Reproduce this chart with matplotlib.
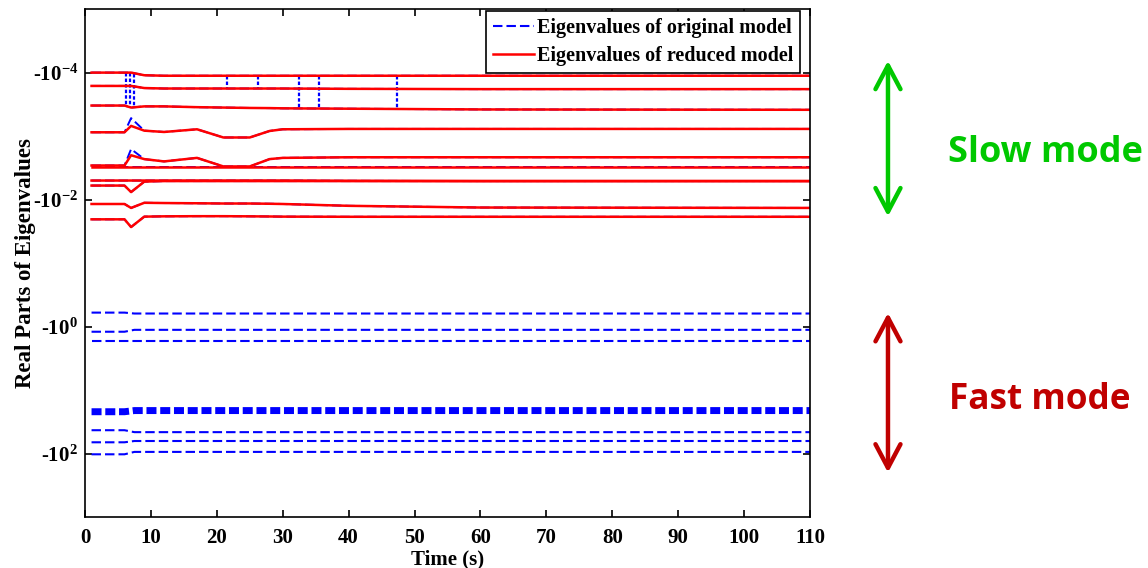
import matplotlib
matplotlib.use("Agg")
import matplotlib.pyplot as plt
import numpy as np
from matplotlib.patches import FancyArrowPatch

plt.rcParams['font.family'] = ['Liberation Serif', 'DejaVu Serif']
plt.rcParams['font.weight'] = 'bold'
plt.rcParams['mathtext.fontset'] = 'custom'
plt.rcParams['mathtext.rm'] = 'Liberation Serif:bold'
plt.rcParams['mathtext.it'] = 'Liberation Serif:italic:bold'
plt.rcParams['mathtext.bf'] = 'Liberation Serif:bold'
plt.rcParams['lines.scale_dashes'] = False

# time knots for the slow (electromechanical) eigenvalues
t_slow = [1, 6, 7, 9, 12, 17, 21, 25, 28, 30, 40, 60, 110]

# real parts of reduced model eigenvalues (slow mode)
red1 = [-1.00e-4, -1.00e-4, -1.00e-4, -1.10e-4, -1.12e-4, -1.12e-4, -1.12e-4, -1.12e-4, -1.12e-4, -1.12e-4, -1.12e-4, -1.12e-4, -1.12e-4]
red2 = [-1.62e-4, -1.62e-4, -1.62e-4, -1.75e-4, -1.78e-4, -1.78e-4, -1.78e-4, -1.78e-4, -1.78e-4, -1.78e-4, -1.80e-4, -1.82e-4, -1.82e-4]
red3 = [-3.30e-4, -3.30e-4, -3.55e-4, -3.40e-4, -3.40e-4, -3.50e-4, -3.55e-4, -3.60e-4, -3.62e-4, -3.65e-4, -3.70e-4, -3.80e-4, -3.85e-4]
red4 = [-8.7e-4, -8.7e-4, -6.9e-4, -8.2e-4, -8.6e-4, -7.8e-4, -1.05e-3, -1.05e-3, -8.3e-4, -7.8e-4, -7.7e-4, -7.7e-4, -7.7e-4]
red5 = [-2.9e-3, -2.9e-3, -2.0e-3, -2.3e-3, -2.5e-3, -2.2e-3, -3.0e-3, -3.0e-3, -2.3e-3, -2.2e-3, -2.15e-3, -2.15e-3, -2.15e-3]
red6 = [-3.1e-3, -3.1e-3, -3.1e-3, -3.1e-3, -3.1e-3, -3.1e-3, -3.1e-3, -3.1e-3, -3.1e-3, -3.1e-3, -3.1e-3, -3.1e-3, -3.1e-3]
red7 = [-5.0e-3, -5.0e-3, -5.0e-3, -5.0e-3, -5.0e-3, -5.0e-3, -5.0e-3, -5.0e-3, -5.0e-3, -5.0e-3, -5.05e-3, -5.1e-3, -5.1e-3]
red8 = [-6.0e-3, -6.0e-3, -7.6e-3, -5.2e-3, -5.1e-3, -5.1e-3, -5.1e-3, -5.1e-3, -5.1e-3, -5.1e-3, -5.1e-3, -5.1e-3, -5.1e-3]
red9 = [-1.17e-2, -1.17e-2, -1.35e-2, -1.12e-2, -1.13e-2, -1.14e-2, -1.15e-2, -1.15e-2, -1.16e-2, -1.17e-2, -1.25e-2, -1.33e-2, -1.35e-2]
red10 = [-2.04e-2, -2.04e-2, -2.7e-2, -1.85e-2, -1.83e-2, -1.82e-2, -1.82e-2, -1.83e-2, -1.84e-2, -1.85e-2, -1.86e-2, -1.86e-2, -1.86e-2]

# original model, slow eigenvalues (sharper peaks at the disturbance)
blue4 = [-8.7e-4, -8.7e-4, -5.2e-4, -8.2e-4, -8.6e-4, -7.8e-4, -1.05e-3, -1.05e-3, -8.3e-4, -7.8e-4, -7.7e-4, -7.7e-4, -7.7e-4]
blue5 = [-2.9e-3, -2.9e-3, -1.6e-3, -2.3e-3, -2.5e-3, -2.2e-3, -3.0e-3, -3.0e-3, -2.3e-3, -2.2e-3, -2.15e-3, -2.15e-3, -2.15e-3]

# crossings of the original model eigenvalues
cross_t = [6.3, 6.9, 7.5, 21.6, 26.2, 32.5, 35.5, 47.4]
cross_a = [-1.00e-4, -1.00e-4, -1.05e-4, -1.12e-4, -1.12e-4, -1.12e-4, -1.12e-4, -1.12e-4]
cross_b = [-3.30e-4, -3.45e-4, -3.50e-4, -1.78e-4, -1.78e-4, -3.60e-4, -3.65e-4, -3.70e-4]

# fast eigenvalues (original model only)
t_fast = [1, 6, 7.5, 110]
fast1 = [-0.60, -0.60, -0.62, -0.62]
fast2 = [-1.20, -1.20, -1.12, -1.12]
fast3 = [-1.70, -1.70, -1.70, -1.70]
fast4 = [-21.8, -21.8, -20.9, -20.9]
fast5 = [-42.6, -42.6, -45.7, -45.7]
fast6 = [-66.0, -66.0, -63.0, -63.0]
fast7 = [-102.0, -102.0, -93.5, -93.5]

yticks = [1e-4, 1e-2, 1e0, 1e2]
ytick_labels = ['-10$^{-4}$', '-10$^{-2}$', '-10$^{0}$', '-10$^{2}$']
xticks = [0, 10, 20, 30, 40, 50, 60, 70, 80, 90, 100, 110]

fig = plt.figure(figsize=(11.48, 5.68), dpi=100)
ax = fig.add_axes([0.074, 0.0893, 0.6316, 0.8947])

blue = '#0000ff'
red = '#ff0000'
dash = (6.8, 2.9)

slow_blue = [red1, red2, red3, blue4, blue5, red6, red7, red8, red9, red10]
for s in slow_blue:
    ax.plot(t_slow, -np.array(s), color=blue, lw=1.4, dashes=dash)
for t, a, b in zip(cross_t, cross_a, cross_b):
    ax.plot([t, t], [-a, -b], color=blue, lw=1.6, dashes=(2.5, 1.5))

h_blue = None
for f in [fast1, fast2, fast3, fast5, fast6, fast7]:
    h_blue, = ax.plot(t_fast, -np.array(f), color=blue, lw=1.5, dashes=dash)
ax.plot(t_fast, -np.array(fast4), color=blue, lw=5, dashes=(7.2, 2.7))

h_red = None
for s in [red1, red2, red3, red4, red5, red6, red7, red8, red9, red10]:
    h_red, = ax.plot(t_slow, -np.array(s), color=red, lw=1.8)

ax.set_yscale('log')
ax.set_ylim(1e3, 1e-5)
ax.set_xlim(0, 110)
ax.set_yticks(yticks)
ax.set_yticklabels(ytick_labels)
ax.yaxis.set_minor_locator(matplotlib.ticker.NullLocator())
ax.set_xticks(xticks)
ax.tick_params(direction='in', top=True, right=True, length=5, width=1.2,
               labelsize=15)
ax.tick_params(axis='x', pad=8)
ax.tick_params(axis='y', pad=5)
for sp in ax.spines.values():
    sp.set_linewidth(1.2)

ax.set_xlabel('Time (s)', fontsize=15, fontweight='bold', labelpad=1)
ax.set_ylabel('Real Parts of Eigenvalues', fontsize=16.5, fontweight='bold')
ax.yaxis.set_label_coords(-0.068, 0.5)

leg = ax.legend([h_blue, h_red], ['Eigenvalues of original model', 'Eigenvalues of reduced model'],
                loc='upper right', bbox_to_anchor=(1 - 10 / 725, 1 - 2 / 508),
                prop={'family': 'Liberation Serif', 'weight': 'bold', 'size': 14.5},
                fancybox=False, edgecolor='black', framealpha=1, handlelength=2.0,
                borderaxespad=0, borderpad=0.35, labelspacing=0.4, handletextpad=0.15)
leg.get_frame().set_linewidth(1.2)

# mode annotations on the right
green = '#00c800'
dark_red = '#c00000'
arr1 = FancyArrowPatch((0.7735, 0.893), (0.7735, 0.619), transform=fig.transFigure,
                       arrowstyle='<->, head_length=0.85, head_width=0.45', mutation_scale=20,
                       color=green, lw=3.2, shrinkA=0, shrinkB=0)
arr2 = FancyArrowPatch((0.7735, 0.449), (0.7735, 0.168), transform=fig.transFigure,
                       arrowstyle='<->, head_length=0.85, head_width=0.45', mutation_scale=20,
                       color=dark_red, lw=3.2, shrinkA=0, shrinkB=0)
fig.patches.append(arr1)
fig.patches.append(arr2)
fig.text(0.826, 0.730, 'Slow mode', family='Open Sans', fontweight='bold', fontsize=26,
         color=green, va='center', ha='left')
fig.text(0.827, 0.295, 'Fast mode', family='Open Sans', fontweight='bold', fontsize=25.3,
         color=dark_red, va='center', ha='left')

fig.savefig('out.png', dpi=100)
